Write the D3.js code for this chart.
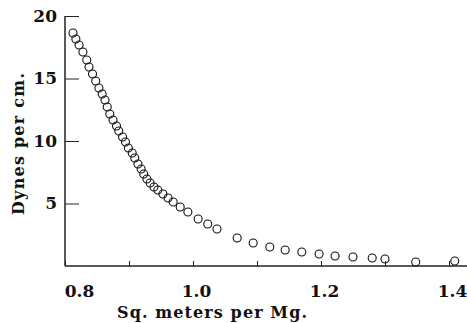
<!DOCTYPE html>
<html>
<head>
<meta charset="utf-8">
<script src="https://cdn.jsdelivr.net/npm/d3@7"></script>
<style>
  body { margin: 0; background: #fff; }
  text { font-family: "DejaVu Serif", serif; font-weight: bold; fill: #111; }
</style>
</head>
<body>
<div id="chart"></div>
<script>
// area per mass (sq. meters per Mg) and surface pressure (dynes per cm)
var area = [0.8125, 0.817, 0.822, 0.828, 0.834, 0.8375, 0.843, 0.848, 0.853, 0.858,
  0.8625, 0.866, 0.870, 0.875, 0.8805, 0.884, 0.890, 0.8945, 0.899, 0.905,
  0.909, 0.914, 0.919, 0.923, 0.928, 0.933, 0.939, 0.945, 0.953, 0.961,
  0.969, 0.980, 0.992, 1.008, 1.023, 1.0375, 1.069, 1.094, 1.120, 1.144,
  1.170, 1.197, 1.222, 1.250, 1.280, 1.300, 1.348, 1.409];
var pressure = [18.64, 18.16, 17.68, 17.12, 16.48, 15.92, 15.36, 14.8, 14.24, 13.76,
  13.28, 12.72, 12.16, 11.68, 11.2, 10.8, 10.32, 9.92, 9.44, 9.04,
  8.64, 8.16, 7.76, 7.36, 6.96, 6.64, 6.32, 6.08, 5.76, 5.44,
  5.12, 4.72, 4.32, 3.76, 3.36, 2.96, 2.24, 1.84, 1.52, 1.28,
  1.12, 0.96, 0.8, 0.72, 0.64, 0.56, 0.32, 0.4];
var xTicks = [0.8, 0.9, 1.0, 1.1, 1.2, 1.3, 1.4];
var xLabels = [0.8, 1.0, 1.2, 1.4];
var yTicks = [5, 10, 15, 20];

var width = 467, height = 323;
var marginLeft = 65, plotTop = 16, plotBottom = 266;

var svg = d3.select("#chart").append("svg")
  .attr("width", width)
  .attr("height", height);

var x = d3.scaleLinear().domain([0.8, 1.4]).range([marginLeft, marginLeft + 384]);
var y = d3.scaleLinear().domain([0, 20]).range([plotBottom, plotTop]);

// x axis: small ticks pointing up, labels only every 0.2
var xAxis = d3.axisBottom(x)
  .tickValues(xTicks)
  .tickSize(-5)
  .tickPadding(10)
  .tickFormat(function(d) {
    return xLabels.some(function(v) { return Math.abs(v - d) < 1e-9; }) ? d3.format(".1f")(d) : "";
  });

var gx = svg.append("g")
  .attr("transform", "translate(0," + plotBottom + ")")
  .call(xAxis);
gx.select(".domain").remove();
gx.selectAll("line").attr("stroke", "#222").attr("stroke-width", 1);
gx.selectAll("text")
  .style("font-size", "17px")
  .attr("fill", "#111")
  .attr("y", 31)
  .attr("dy", 0)
  .attr("dx", function(d) { return Math.abs(d - 0.8) < 1e-9 ? 14 : 3; });

svg.append("line")
  .attr("x1", marginLeft).attr("x2", width)
  .attr("y1", plotBottom).attr("y2", plotBottom)
  .attr("stroke", "#222").attr("stroke-width", 1.5);

// y axis: ticks pointing right into the plot
var yAxis = d3.axisLeft(y)
  .tickValues(yTicks)
  .tickSize(-14)
  .tickPadding(8);

var gy = svg.append("g")
  .attr("transform", "translate(" + marginLeft + ",0)")
  .call(yAxis);
gy.select(".domain").remove();
gy.selectAll("line").attr("stroke", "#222").attr("stroke-width", 1);
gy.selectAll("text")
  .style("font-size", "17px")
  .attr("fill", "#111");

svg.append("line")
  .attr("x1", marginLeft).attr("x2", marginLeft)
  .attr("y1", plotTop).attr("y2", plotBottom)
  .attr("stroke", "#222").attr("stroke-width", 1.5);

// data points: open circles
svg.selectAll("circle.pt")
  .data(area)
  .enter()
  .append("circle")
  .attr("class", "pt")
  .attr("cx", function(d) { return x(d); })
  .attr("cy", function(d, i) { return y(pressure[i]); })
  .attr("r", 4)
  .attr("fill", "none")
  .attr("stroke", "#111")
  .attr("stroke-width", 1.1);

// axis titles
svg.append("text")
  .attr("x", 212)
  .attr("y", 318)
  .attr("text-anchor", "middle")
  .attr("textLength", 190)
  .style("font-size", "16px")
  .text("Sq. meters per Mg.");

svg.append("text")
  .attr("transform", "translate(24,144) rotate(-90)")
  .attr("text-anchor", "middle")
  .attr("textLength", 142)
  .style("font-size", "16px")
  .text("Dynes per cm.");
</script>
</body>
</html>
